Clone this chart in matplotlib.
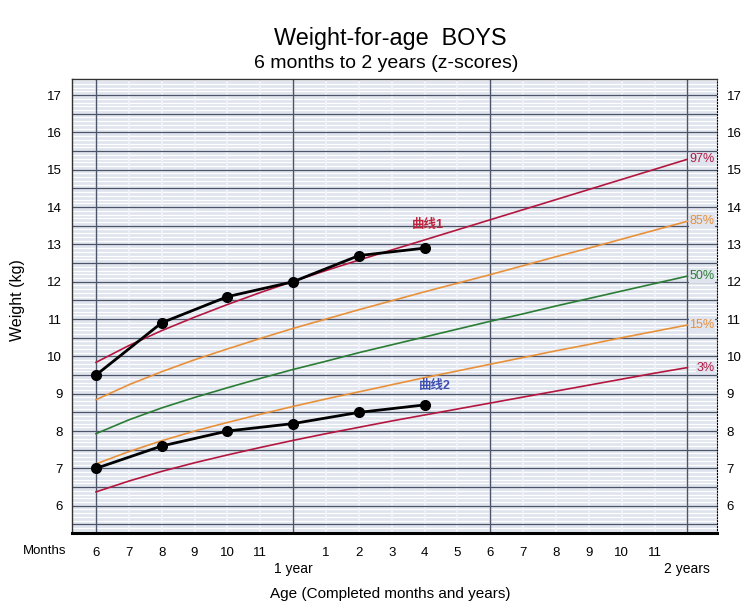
import numpy as np
import matplotlib
matplotlib.use("Agg")
import matplotlib.pyplot as plt
import matplotlib.transforms as mtransforms

plt.rcParams['font.family'] = ['Liberation Sans', 'Noto Sans CJK SC', 'DejaVu Sans']

# WHO boys weight-for-age reference curves, 6..24 months
months = list(range(6, 25))
p3 = [6.37, 6.66, 6.92, 7.15, 7.36, 7.56, 7.75, 7.93, 8.10, 8.27, 8.43, 8.59, 8.75,
      8.91, 9.07, 9.23, 9.39, 9.55, 9.70]
p15 = [7.12, 7.45, 7.74, 8.00, 8.23, 8.45, 8.66, 8.86, 9.05, 9.24, 9.43, 9.61, 9.79,
       9.97, 10.15, 10.32, 10.50, 10.67, 10.84]
p50 = [7.93, 8.30, 8.62, 8.90, 9.16, 9.41, 9.65, 9.87, 10.10, 10.31, 10.52, 10.73,
       10.94, 11.14, 11.35, 11.55, 11.75, 11.95, 12.15]
p85 = [8.84, 9.24, 9.59, 9.91, 10.20, 10.48, 10.75, 11.00, 11.25, 11.49, 11.73, 11.96,
       12.19, 12.43, 12.67, 12.90, 13.14, 13.38, 13.62]
p97 = [9.84, 10.29, 10.69, 11.05, 11.39, 11.71, 12.01, 12.30, 12.58, 12.85, 13.12,
       13.39, 13.66, 13.93, 14.20, 14.47, 14.74, 15.01, 15.28]

# measured children
child_months = [6, 8, 10, 12, 14, 16]
curve1 = [9.5, 10.9, 11.6, 12.0, 12.7, 12.9]
curve2 = [7.0, 7.6, 8.0, 8.2, 8.5, 8.7]

x_labels = ["6", "7", "8", "9", "10", "11", "", "1", "2", "3", "4", "5", "6",
            "7", "8", "9", "10", "11"]

red = "#b3173f"
orange = "#e8913a"
green = "#2b7d35"
bg = "#dfe4ee"

fig = plt.figure(figsize=(7.5, 6.11), dpi=100)
ax = fig.add_axes([0.096, 0.1277, 0.86, 0.743])
ax.set_facecolor(bg)
ax.set_xlim(5.27, 24.9)
ax.set_ylim(5.27, 17.43)

# background grid
for y in np.arange(5.3, 17.45, 0.1):
    ax.axhline(y, color="white", lw=0.9, zorder=0)
for x in range(6, 25):
    ax.axvline(x, color="#f2f4f8", lw=1.2, zorder=0)
for y in np.arange(5.5, 17.45, 0.5):
    ax.axhline(y, color="#4c5568", lw=0.9, zorder=1)
for x in [6, 12, 18, 24]:
    ax.axvline(x, color="#4c5568", lw=1.0, zorder=1)

ax.plot(months, p97, color=red, lw=1.2, zorder=2)
ax.plot(months, p85, color=orange, lw=1.2, zorder=2)
ax.plot(months, p50, color=green, lw=1.2, zorder=2)
ax.plot(months, p15, color=orange, lw=1.2, zorder=2)
ax.plot(months, p3, color=red, lw=1.2, zorder=2)

for vals, lab, c in [(p97, "97%", red), (p85, "85%", orange), (p50, "50%", green),
                     (p15, "15%", orange), (p3, "3%", red)]:
    ax.text(24.9 - 0.08, vals[-1], lab, color=c, fontsize=9, va="center", ha="right", zorder=3,
            bbox=dict(boxstyle="square,pad=0.05", fc=bg, ec="none"))

ax.plot(child_months, curve1, color="black", lw=2, marker="o", ms=7, zorder=4)
ax.plot(child_months, curve2, color="black", lw=2, marker="o", ms=7, zorder=4)
ax.text(16.1, 13.35, "曲线1", color="#c0253f", fontsize=9, fontweight="bold", ha="center", va="bottom")
ax.text(16.3, 9.05, "曲线2", color="#3e4fb0", fontsize=9, fontweight="bold", ha="center", va="bottom")

# axes frame
for s in ["left", "top"]:
    ax.spines[s].set_color("#333333")
    ax.spines[s].set_linewidth(1.0)
ax.spines["bottom"].set_linewidth(2.2)
ax.spines["bottom"].set_color("black")
ax.spines["right"].set_linestyle(":")
ax.spines["right"].set_color("black")

ax.set_xticks(range(6, 24))
ax.set_xticklabels(x_labels, fontsize=9.5)
ax.tick_params(axis="x", length=0, pad=10)
ax.set_yticks(range(6, 18))
ax.tick_params(axis="y", length=0, labelsize=9.5, pad=7, labelright=True)

trans = mtransforms.blended_transform_factory(ax.transData, fig.transFigure)
ax.text(5.1, 1 - 551 / 611, "Months", transform=trans, fontsize=9.5, ha="right", va="center")
ax.text(12, 1 - 569 / 611, "1 year", transform=trans, fontsize=10, ha="center", va="center")
ax.text(24, 1 - 569 / 611, "2 years", transform=trans, fontsize=10, ha="center", va="center")
fig.text(0.521, 1 - 594 / 611, "Age (Completed months and years)", fontsize=11, ha="center", va="center")
fig.text(0.024, 1 - 300 / 611, "Weight (kg)", fontsize=11.5, ha="center", va="center", rotation=90)

fig.text(0.521, 1 - 38 / 611, "Weight-for-age  BOYS", fontsize=16.8, ha="center", va="center")
fig.text(0.515, 1 - 63 / 611, "6 months to 2 years (z-scores)", fontsize=14, ha="center", va="center")

fig.savefig("out.png", dpi=100)
